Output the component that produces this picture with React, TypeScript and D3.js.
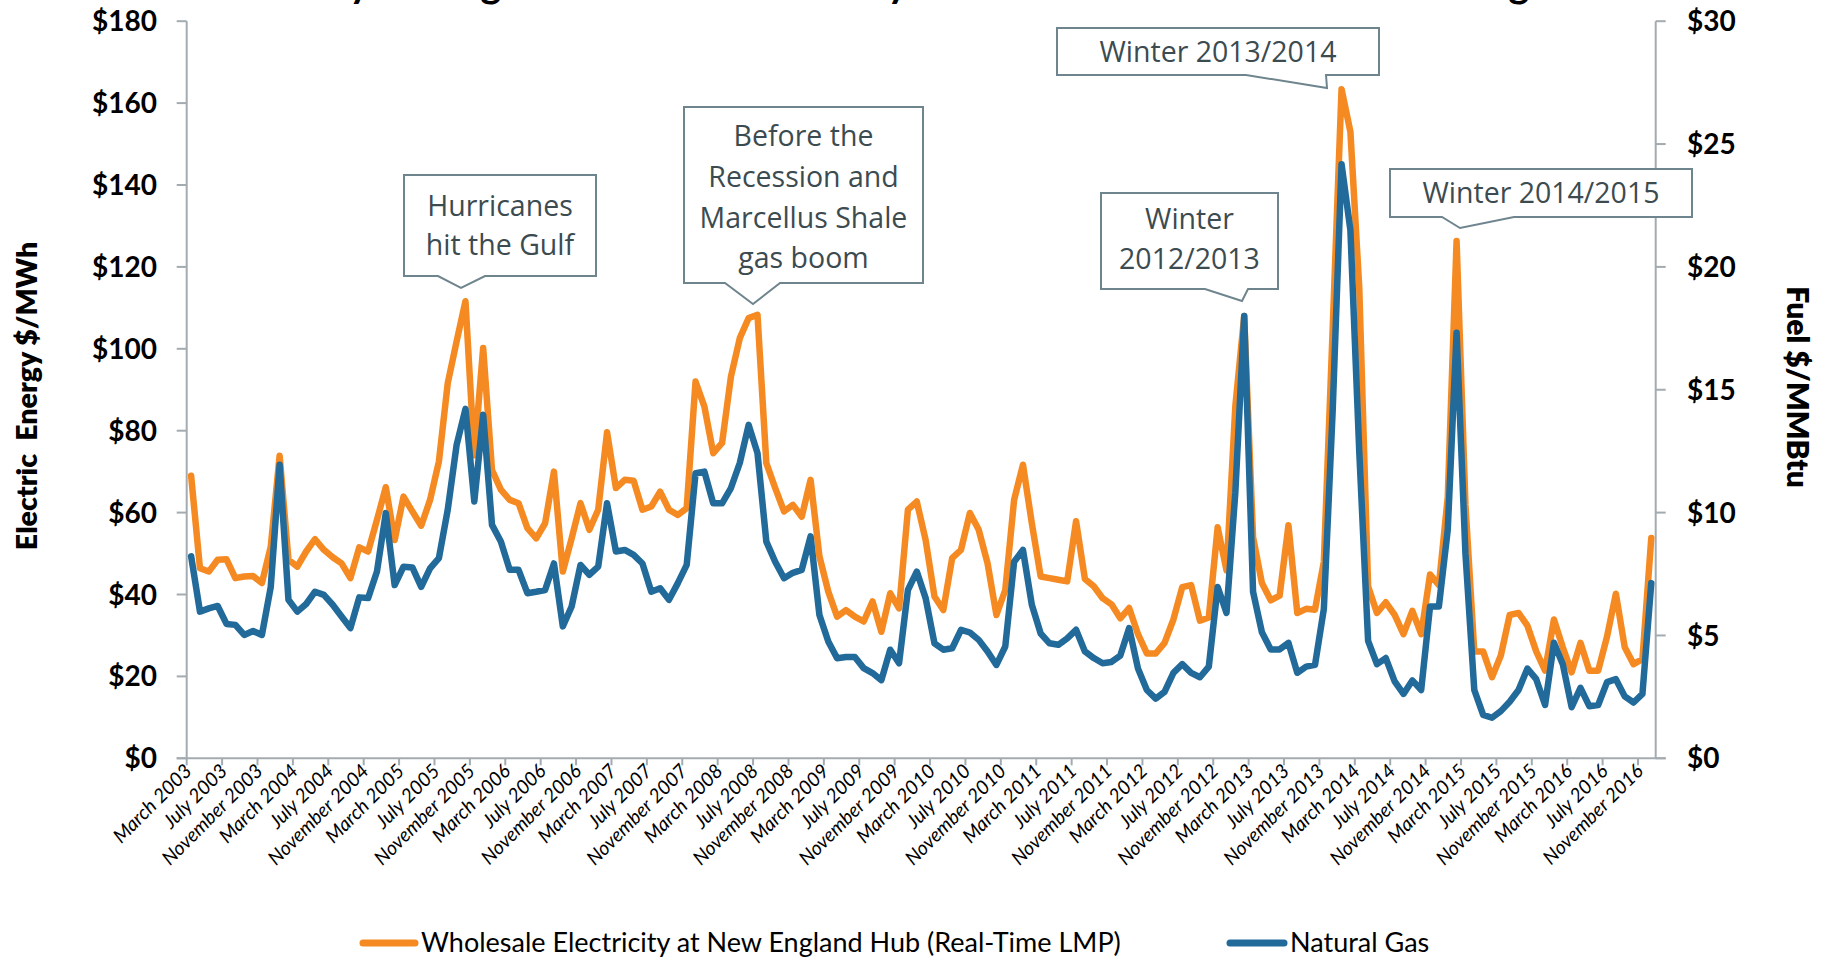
import React from 'react';
import * as d3 from 'd3';

// Monthly values, March 2003 – December 2016
const electricity: number[] = [
  69, 46.4, 45.6, 48.5, 48.6, 44.0, 44.4, 44.5, 42.8, 51.7,
  73.9, 48.5, 46.8, 50.5, 53.5, 50.9, 49.1, 47.6, 44.0, 51.5,
  50.5, 58.2, 66.2, 53.3, 63.9, 60.3, 56.8, 63.1, 72.5, 91.6,
  101.8, 111.6, 74, 100.2, 70.4, 65.6, 63.1, 62.3, 56.2, 53.7,
  57.4, 70.0, 45.6, 53.7, 62.3, 55.8, 60.7, 79.6, 66.0, 68.0,
  67.8, 60.7, 61.5, 65.1, 60.7, 59.4, 61.1, 92.0, 85.9, 74.5,
  77.0, 93.2, 102.6, 107.5, 108.3, 72.1, 66, 60.3, 61.9, 59.0,
  68.0, 49.3, 40.7, 34.6, 36.2, 34.6, 33.4, 38.3, 30.9, 40.3,
  36.6, 60.7, 62.7, 53.3, 39.5, 36.2, 48.9, 50.9, 59.9, 55.8,
  47.6, 35.0, 41.1, 63.1, 71.7, 57.4, 44.4, 44.0, 43.6, 43.2,
  57.9, 43.8, 42.0, 39.1, 37.6, 34.2, 36.7, 30.3, 25.6, 25.6,
  28.2, 33.9, 41.8, 42.3, 33.6, 34.4, 56.4, 45.9, 86, 108.0,
  54, 42.8, 38.6, 39.7, 56.9, 35.5, 36.5, 36.3, 48.0, 105,
  163.4, 153, 115, 42, 35.5, 38.1, 35.0, 30.3, 36.0, 30.3,
  44.9, 42.3, 63.7, 126.3, 62, 26.1, 26.1, 19.8, 25.1, 35.0,
  35.5, 32.4, 26.1, 21.4, 33.9, 27.1, 21, 28.2, 21.4, 21.4,
  29.7, 40.2, 27.1, 23.0, 24.2, 53.8,
];

const naturalGas: number[] = [
  8.22, 5.97, 6.10, 6.20, 5.47, 5.43, 5.02, 5.18, 5.02, 6.98,
  11.95, 6.45, 5.97, 6.28, 6.78, 6.65, 6.25, 5.77, 5.30, 6.55,
  6.52, 7.60, 9.98, 7.05, 7.80, 7.77, 6.98, 7.73, 8.15, 10.12,
  12.75, 14.22, 10.45, 13.98, 9.50, 8.82, 7.67, 7.67, 6.72, 6.78,
  6.85, 7.93, 5.37, 6.18, 7.87, 7.47, 7.80, 10.38, 8.42, 8.48,
  8.28, 7.93, 6.78, 6.92, 6.45, 7.13, 7.87, 11.60, 11.67, 10.38,
  10.38, 11.00, 12.02, 13.57, 12.42, 8.82, 8.00, 7.33, 7.55, 7.67,
  9.03, 5.83, 4.75, 4.07, 4.12, 4.12, 3.67, 3.47, 3.18, 4.42,
  3.87, 6.85, 7.60, 6.52, 4.68, 4.42, 4.48, 5.23, 5.12, 4.82,
  4.35, 3.80, 4.55, 8.00, 8.48, 6.25, 5.08, 4.68, 4.62, 4.88,
  5.23, 4.35, 4.08, 3.87, 3.92, 4.18, 5.30, 3.65, 2.78, 2.43,
  2.70, 3.48, 3.83, 3.48, 3.30, 3.73, 6.97, 5.92, 10.83, 18.00,
  6.78, 5.13, 4.43, 4.43, 4.70, 3.48, 3.73, 3.80, 6.08, 14.17,
  24.18, 21.5, 12.5, 4.78, 3.83, 4.08, 3.13, 2.62, 3.17, 2.78,
  6.18, 6.18, 9.30, 17.32, 8.33, 2.78, 1.77, 1.65, 1.92, 2.30,
  2.78, 3.65, 3.22, 2.17, 4.70, 3.83, 2.08, 2.87, 2.12, 2.17,
  3.10, 3.22, 2.52, 2.27, 2.62, 7.13,
];

const months: Date[] = d3.timeMonths(new Date(2003, 2, 1), new Date(2017, 0, 1));
const labelInterval = 4;
const leftTicks = [0, 20, 40, 60, 80, 100, 120, 140, 160, 180];
const rightTicks = [0, 5, 10, 15, 20, 25, 30];

const titleText = 'Monthly Average Wholesale Electricity and Natural Gas Prices in New England';
const leftTitle = 'Electric\u00a0\u00a0Energy $/MWh';
const rightTitle = 'Fuel $/MMBtu';
const legendElec = 'Wholesale Electricity at New England Hub (Real-Time LMP)';
const legendGas = 'Natural Gas';

const calloutTexts: string[][] = [
  ['Hurricanes', 'hit the Gulf'],
  ['Before the', 'Recession and', 'Marcellus Shale', 'gas boom'],
  ['Winter', '2012/2013'],
  ['Winter 2013/2014'],
  ['Winter 2014/2015'],
];

// layout
const W = 1825;
const H = 957;
const plot = { left: 186.7, right: 1655.7, top: 21.2, bottom: 758.3 };
const ORANGE = '#F58A22';
const BLUE = '#216A9A';
const AXIS = '#A3ABB0';
const BOX = '#6F858E';
const BOXTEXT = '#3C4B50';

const calloutBoxes = [
  { x0: 404, y0: 175, x1: 596, y1: 276, bl: 438, br: 485, tx: 461, ty: 288, lines: [206, 245] },
  { x0: 684, y0: 107, x1: 923, y1: 283, bl: 725, br: 780, tx: 753, ty: 304, lines: [136, 177, 218, 258] },
  { x0: 1101, y0: 193, x1: 1278, y1: 289, bl: 1205, br: 1248, tx: 1242, ty: 301, lines: [219, 259] },
  { x0: 1057, y0: 28, x1: 1379, y1: 75, bl: 1246, br: 1326, tx: 1327, ty: 88, lines: [52] },
  { x0: 1390, y0: 169, x1: 1692, y1: 217, bl: 1442, br: 1514, tx: 1460, ty: 228, lines: [193] },
];

export default function App() {
  const idx = d3.range(months.length);
  const x = d3.scaleBand<number>().domain(idx).range([plot.left, plot.right]).padding(0);
  const bw = x.bandwidth();
  const cx = (i: number) => (x(i) as number) + bw / 2;
  const yL = d3.scaleLinear().domain([0, 180]).range([plot.bottom, plot.top]);
  const yR = d3.scaleLinear().domain([0, 30]).range([plot.bottom, plot.top]);
  const fmt = d3.timeFormat('%B %Y');

  const elecLine = d3.line<number>().x((_, i) => cx(i)).y((d) => yL(d))(electricity) || '';
  const gasLine = d3.line<number>().x((_, i) => cx(i)).y((d) => yR(d))(naturalGas) || '';

  const tickIdx = idx.filter((i) => i % labelInterval === 0);

  const font = 'Lato, "Open Sans", sans-serif';

  return (
    <svg width={W} height={H} style={{ position: 'absolute', left: 0, top: 0, display: 'block', background: '#fff' }}>
      <rect x={0} y={0} width={W} height={H} fill="#fff" />
      {/* title, clipped by the top edge as in the source image */}
      <text x={912} y={-3} textAnchor="middle" fontFamily={font} fontWeight={700} fontSize={40} fill="#000">
        {titleText}
      </text>

      {/* axes */}
      <line x1={plot.left} x2={plot.left} y1={plot.top} y2={plot.bottom} stroke={AXIS} strokeWidth={2} />
      <line x1={plot.right} x2={plot.right} y1={plot.top} y2={plot.bottom} stroke={AXIS} strokeWidth={2} />
      <line x1={plot.left - 10} x2={plot.right + 10} y1={plot.bottom} y2={plot.bottom} stroke={AXIS} strokeWidth={2} />
      {leftTicks.map((t) => (
        <g key={'l' + t}>
          <line x1={plot.left - 10} x2={plot.left} y1={yL(t)} y2={yL(t)} stroke={AXIS} strokeWidth={2} />
          <text x={157} y={yL(t)} dy="0.36em" textAnchor="end" fontFamily={font} fontWeight={700} fontSize={28} fill="#000">
            {'$' + t}
          </text>
        </g>
      ))}
      {rightTicks.map((t) => (
        <g key={'r' + t}>
          <line x1={plot.right} x2={plot.right + 10} y1={yR(t)} y2={yR(t)} stroke={AXIS} strokeWidth={2} />
          <text x={1687} y={yR(t)} dy="0.36em" textAnchor="start" fontFamily={font} fontWeight={700} fontSize={28} fill="#000">
            {'$' + t}
          </text>
        </g>
      ))}
      {tickIdx.map((i) => (
        <g key={'x' + i}>
          <line x1={x(i) as number} x2={x(i) as number} y1={plot.bottom} y2={plot.bottom + 7} stroke={AXIS} strokeWidth={2} />
          <text
            transform={`translate(${cx(i) + 2},${plot.bottom + 14}) rotate(-45)`}
            textAnchor="end"
            fontFamily={font}
            fontStyle="italic"
            fontSize={19.5}
            fill="#000"
          >
            {fmt(months[i])}
          </text>
        </g>
      ))}

      {/* axis titles */}
      <text transform={`translate(27,396) rotate(-90)`} textAnchor="middle" dy="0.35em" fontFamily={font} fontWeight={800} fontSize={28.5} fill="#000">
        {leftTitle}
      </text>
      <text transform={`translate(1797,387) rotate(90)`} textAnchor="middle" dy="0.35em" fontFamily={font} fontWeight={800} fontSize={30} fill="#000">
        {rightTitle}
      </text>

      {/* series */}
      <path d={elecLine} fill="none" stroke={ORANGE} strokeWidth={6.5} strokeLinejoin="round" strokeLinecap="round" />
      <path d={gasLine} fill="none" stroke={BLUE} strokeWidth={6.5} strokeLinejoin="round" strokeLinecap="round" />

      {/* callouts */}
      {calloutBoxes.map((b, k) => {
        const d = `M${b.x0},${b.y0}H${b.x1}V${b.y1}H${b.br}L${b.tx},${b.ty}L${b.bl},${b.y1}H${b.x0}Z`;
        const mid = (b.x0 + b.x1) / 2;
        return (
          <g key={'c' + k}>
            <path d={d} fill="#fff" stroke={BOX} strokeWidth={2} />
            {calloutTexts[k].map((t, j) => (
              <text key={j} x={mid} y={b.lines[j]} dy="0.35em" textAnchor="middle" fontFamily='"Open Sans", sans-serif' fontSize={28.5} fill={BOXTEXT}>
                {t}
              </text>
            ))}
          </g>
        );
      })}

      {/* legend */}
      <line x1={363} x2={415} y1={943} y2={943} stroke={ORANGE} strokeWidth={7} strokeLinecap="round" />
      <text x={421} y={943} dy="0.35em" fontFamily={font} fontSize={27} fill="#000">{legendElec}</text>
      <line x1={1230} x2={1284} y1={943} y2={943} stroke={BLUE} strokeWidth={7} strokeLinecap="round" />
      <text x={1290} y={943} dy="0.35em" fontFamily={font} fontSize={27} fill="#000">{legendGas}</text>
    </svg>
  );
}
